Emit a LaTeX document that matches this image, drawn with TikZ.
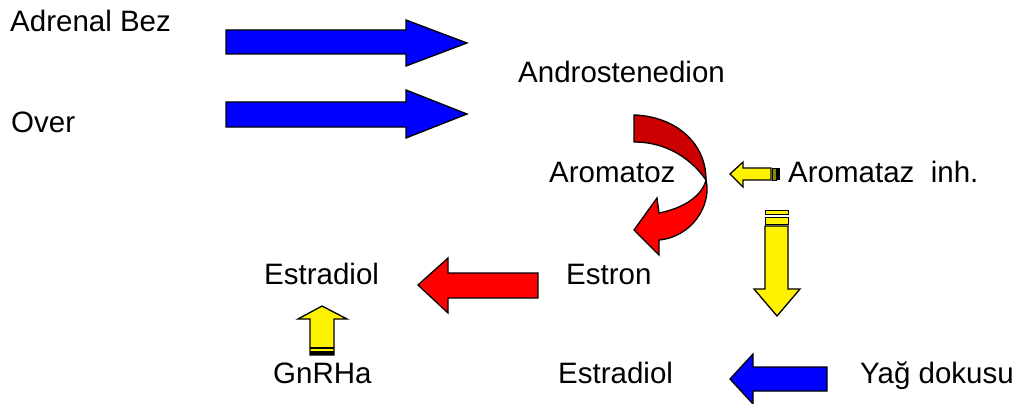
\documentclass[tikz,border=0pt]{standalone}
\usepackage{fontspec}
\setmainfont{Liberation Sans}
\begin{document}
\begin{tikzpicture}[x=1pt,y=-1pt,
  lbl/.style={anchor=base west,inner sep=0pt,font=\fontsize{29.5}{34}\selectfont},
  blockarrow/.style={draw=black,line width=1.3pt,line join=miter},
  bluearrow/.style={blockarrow,fill=blue},
  redarrow/.style={blockarrow,fill=red},
  darkredband/.style={blockarrow,fill=red!80!black},
  yellowarrow/.style={blockarrow,fill=yellow},
  stripe/.style={draw=black,line width=1pt,fill=yellow},
  solidstripe/.style={fill=black}]
\useasboundingbox (0,0) rectangle (1021,404);

% labels
\node[lbl] (adrenal) at (10,32) {Adrenal Bez};
\node[lbl] (over) at (11,132) {Over};
\node[lbl] (andro) at (518,83) {Androstenedion};
\node[lbl] (aromatoz) at (549,182) {Aromatoz};
\node[lbl] (inh) at (788,182) {Aromataz\ \ inh.};
\node[lbl] (estradiolA) at (264,284) {Estradiol};
\node[lbl] (estron) at (566,284) {Estron};
\node[lbl] (gnrha) at (273,383) {GnRHa};
\node[lbl] (estradiolB) at (558,383) {Estradiol};
\node[lbl] (yag) at (860,383) {Yağ dokusu};

% blue block arrows from the sources
\draw[bluearrow] (226,30) -- (406,30) -- (406,20) -- (467,43) -- (406,66) -- (406,54) -- (226,54) -- cycle;
\draw[bluearrow] (226,102) -- (406,102) -- (406,90) -- (467,114) -- (406,138) -- (406,127) -- (226,127) -- cycle;

% curved aromatase arrow: back band, then front band with head
\draw[darkredband] (634,115) .. controls (672,116) and (706,140) .. (706,180)
  .. controls (692,160) and (668,142) .. (634,142) -- cycle;
\draw[redarrow] (706,180) .. controls (712,205) and (692,237) .. (659,240)
  -- (659,255) -- (634,230) -- (657,198) -- (659,213)
  .. controls (684,208) and (702,196) .. (706,180) -- cycle;

% estron -> estradiol
\draw[redarrow] (538,273) -- (448,273) -- (448,258) -- (418,285) -- (448,313) -- (448,298) -- (538,298) -- cycle;

% yellow inhibitor arrow (left)
\draw[yellowarrow] (771,168) -- (743,168) -- (743,162) -- (730,174) -- (743,187) -- (743,180) -- (771,180) -- cycle;
\fill[olive,draw=black,line width=0.8pt] (772,168) rectangle (776,180);
\fill[solidstripe] (777,168) rectangle (780,180);

% yellow inhibitor arrow (down)
\draw[stripe] (765,210) rectangle (788,214);
\draw[stripe] (765,217) rectangle (788,224);
\draw[yellowarrow] (765,226) -- (788,226) -- (788,289) -- (800,289) -- (777,316) -- (754,289) -- (765,289) -- cycle;

% yellow GnRHa arrow (up)
\draw[yellowarrow] (310,355) -- (310,319) -- (298,319) -- (322,306) -- (347,319) -- (334,319) -- (334,355) -- cycle;
\fill[solidstripe] (310,351) rectangle (334,355);
\draw[black,line width=1.2pt] (310,348) -- (334,348);

% blue arrow from adipose tissue
\draw[bluearrow] (827,367) -- (753,367) -- (753,354) -- (730,379) -- (753,404) -- (753,391) -- (827,391) -- cycle;
\end{tikzpicture}
\end{document}
